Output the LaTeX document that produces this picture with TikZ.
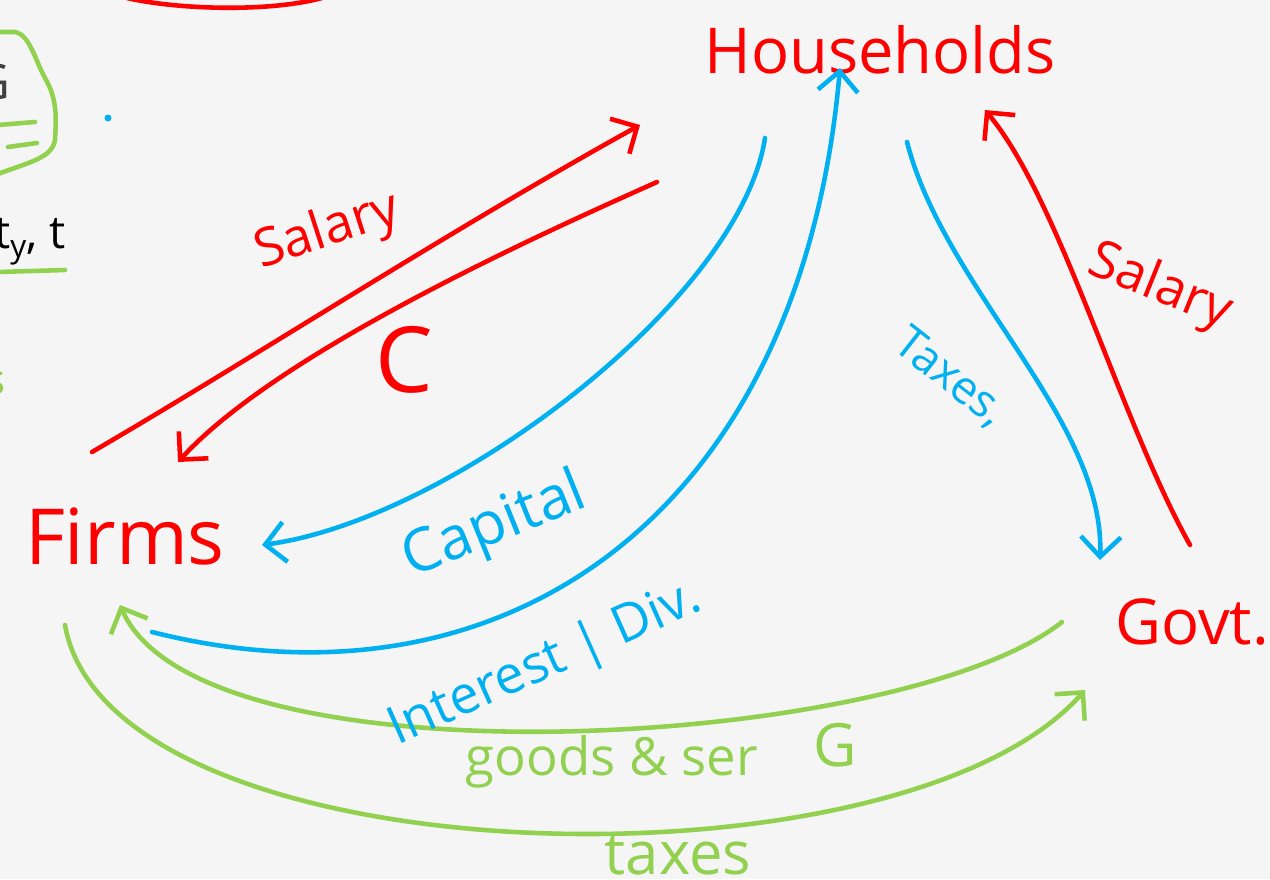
\documentclass[tikz,border=0pt]{standalone}
\usepackage{fontspec}
\setmainfont{Open Sans}
\usetikzlibrary{arrows.meta}

\definecolor{penred}{HTML}{FF0000}
\definecolor{penblue}{HTML}{00B0F0}
\definecolor{pengreen}{HTML}{92D050}
\definecolor{paper}{HTML}{F5F5F5}

\begin{document}
\begin{tikzpicture}[x=0.02cm,y=-0.02cm,>={Straight Barb[length=4mm,width=8mm]},line width=2.6pt,line cap=round,line join=round,
  agent/.style={text=penred,font=\fontsize{36}{40}\selectfont,inner sep=0pt},
  lab/.style={font=\fontsize{30}{34}\selectfont,inner sep=0pt},
  flowred/.style={->,draw=penred},
  flowblue/.style={->,draw=penblue},
  flowgreen/.style={->,draw=pengreen}]

\fill[paper] (0,0) rectangle (1270,879);
\clip (0,0) rectangle (1270,879);

% notes cut off at the left edge
\draw[penred] (127,-2) .. controls (180,10) and (270,12) .. (322,-2);
\draw[pengreen] (-5,32) -- (15,32) .. controls (30,35) and (35,60) .. (45,78)
  .. controls (58,100) and (56,120) .. (55,140) .. controls (52,158) and (30,162) .. (-5,175);
\draw[pengreen] (-2,125) -- (35,122);
\draw[pengreen] (8,147) -- (37,143);
\node[text=black!75,font=\fontsize{28}{30}\selectfont] (gnote) at (-8,82) {G};
\node[anchor=base west,text=black,font=\fontsize{26}{30}\selectfont] (tnote) at (-14,248) {t\raisebox{-.4ex}{\fontsize{18}{20}\selectfont y}, t};
\draw[pengreen] (-2,272) -- (65,270);
\node[text=pengreen,font=\fontsize{24}{28}\selectfont] (snote) at (-4,383) {s};
\fill[penblue] (108,118) circle (3.5);

\node[agent] (hh) at (880,50) {Households};
\node[agent,font=\fontsize{44}{48}\selectfont] (firms) at (125,537) {Firms};
\node[agent] (govt) at (1192,622) {Govt.};

\coordinate (sf-a) at (92,452);   \coordinate (sf-b) at (640,125);
\coordinate (c-a) at (657,182);   \coordinate (c-b) at (178,462);
\coordinate (cap-a) at (765,138); \coordinate (cap-b) at (262,545);
\coordinate (int-a) at (152,632); \coordinate (int-b) at (840,68);
\coordinate (tax-a) at (907,142); \coordinate (tax-b) at (1100,560);
\coordinate (sg-a) at (1190,545); \coordinate (sg-b) at (985,110);
\coordinate (gs-a) at (1062,622); \coordinate (gs-b) at (120,605);
\coordinate (tf-a) at (65,625);   \coordinate (tf-b) at (1085,690);

\draw[flowred] (sf-a) .. controls (250,360) and (450,230) .. (sf-b);
\draw[flowred] (c-a) .. controls (550,230) and (280,350) .. (c-b);
\draw[flowblue] (cap-a) .. controls (740,300) and (450,520) .. (cap-b);
\draw[flowblue] (int-a) .. controls (500,720) and (800,520) .. (int-b);
\draw[flowblue] (tax-a) .. controls (945,290) and (1105,420) .. (tax-b);
\draw[flowred] (sg-a) .. controls (1120,420) and (1060,200) .. (sg-b);
\draw[flowgreen] (gs-a) .. controls (900,750) and (200,790) .. (gs-b);
\draw[flowgreen] (tf-a) .. controls (110,880) and (900,900) .. (tf-b);

\node[lab,text=penred,rotate=18] (sal-f) at (328,232) {Salary};
\node[lab,text=penred,font=\fontsize{52}{56}\selectfont] (cons) at (404,360) {C};
\node[lab,text=penblue,rotate=22,font=\fontsize{34}{38}\selectfont] (capital) at (495,527) {Capital};
\node[lab,text=penblue,rotate=24] (interest) at (545,665) {Interest | Div.};
\node[lab,text=penblue,rotate=-38,font=\fontsize{26}{30}\selectfont] (taxes-h) at (950,378) {Taxes,};
\node[lab,text=penred,rotate=-22] (sal-g) at (1160,288) {Salary};
\node[lab,text=pengreen] (goods) at (612,762) {goods \& ser};
\node[lab,text=pengreen,font=\fontsize{34}{38}\selectfont] (gov-g) at (835,745) {G};
\node[lab,text=pengreen,font=\fontsize{34}{38}\selectfont] (taxes-f) at (678,855) {taxes};

\end{tikzpicture}
\end{document}
